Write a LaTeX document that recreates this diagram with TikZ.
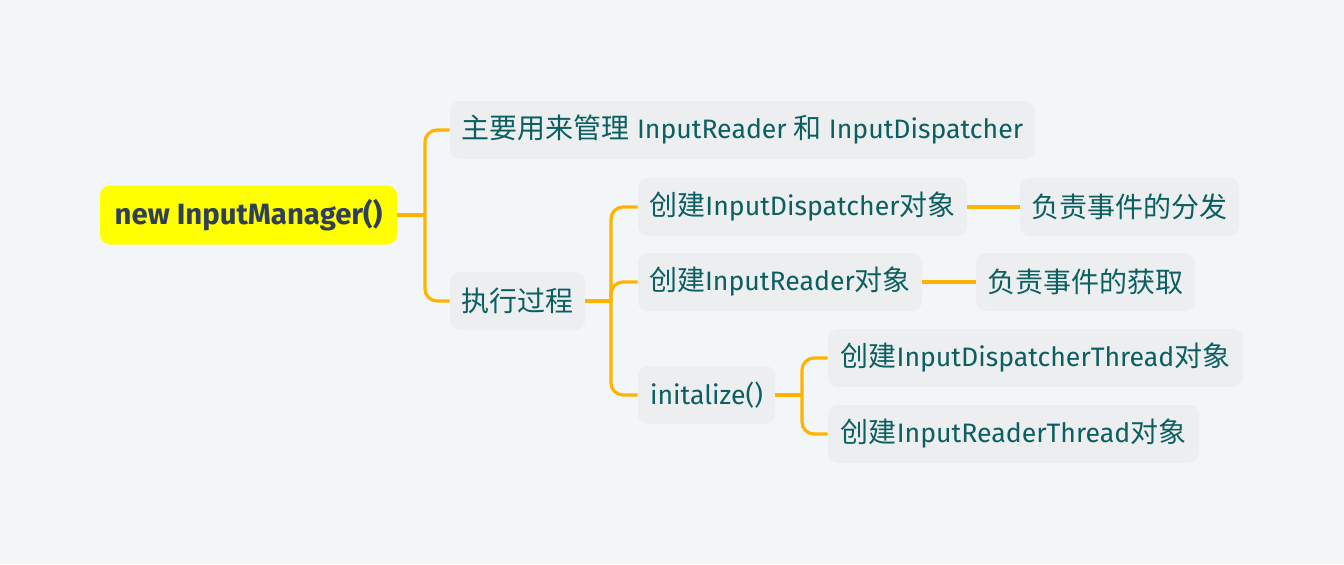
\documentclass[tikz,border=0pt]{standalone}
\usepackage{fontspec}
\setmainfont{Fira Sans}
\newfontfamily\cjk[Scale=1.05]{Noto Sans CJK SC}
\definecolor{bgc}{HTML}{F3F6F9}
\definecolor{boxc}{HTML}{ECEEF0}
\definecolor{txtc}{HTML}{0B5F60}
\definecolor{rootc}{HTML}{2F3F55}
\definecolor{linec}{HTML}{FFB300}
\definecolor{rootfill}{HTML}{FFFF00}
\tikzset{
  topic/.style={fill=boxc, rounded corners=7.5pt, text=txtc, inner sep=0pt,
    minimum height=43.5pt, font=\fontsize{20}{24}\selectfont},
  roottopic/.style={fill=rootfill, rounded corners=7.5pt, text=rootc, inner sep=0pt,
    minimum height=44.25pt, font=\fontsize{22}{26}\selectfont\bfseries},
  conn/.style={draw=linec, line width=2.4pt, rounded corners=9pt}
}
\begin{document}
\begin{tikzpicture}[x=0.75pt,y=-0.75pt]
\fill[bgc] (0,0) rectangle (1344,564);
\useasboundingbox (0,0) rectangle (1344,564);
\node[roottopic, minimum width=222.75pt] (root) at (248.5,215) {new InputManager()};
\node[topic, minimum width=438.75pt] (A) at (742.5,130) {{\cjk 主要用来管理} InputReader {\cjk 和} InputDispatcher};
\node[topic, minimum width=101.25pt] (B) at (517.5,301) {\cjk 执行过程};
\node[topic, minimum width=246.75pt] (C) at (802.5,207) {{\cjk 创建}InputDispatcher{\cjk 对象}};
\node[topic, minimum width=213pt] (D) at (780,282) {{\cjk 创建}InputReader{\cjk 对象}};
\node[topic, minimum width=102.75pt] (E) at (706.5,395) {initalize()};
\node[topic, minimum width=164.25pt] (F) at (1129.5,207) {\cjk 负责事件的分发};
\node[topic, minimum width=164.25pt] (G) at (1085.5,282) {\cjk 负责事件的获取};
\node[topic, minimum width=311.25pt] (H) at (1035.5,358) {{\cjk 创建}InputDispatcherThread{\cjk 对象}};
\node[topic, minimum width=278.25pt] (I) at (1013.5,434) {{\cjk 创建}InputReaderThread{\cjk 对象}};
\coordinate (j1) at (425,215);
\coordinate (j2) at (611,301);
\coordinate (j3) at (802,395);
\draw[conn] (root.east) -- (j1);
\draw[conn] (j1) |- (A.west);
\draw[conn] (j1) |- (B.west);
\draw[conn] (B.east) -- (j2);
\draw[conn] (j2) |- (C.west);
\draw[conn] (j2) |- (D.west);
\draw[conn] (j2) |- (E.west);
\draw[conn] (C.east) -- (F.west);
\draw[conn] (D.east) -- (G.west);
\draw[conn] (E.east) -- (j3);
\draw[conn] (j3) |- (H.west);
\draw[conn] (j3) |- (I.west);
\end{tikzpicture}
\end{document}
